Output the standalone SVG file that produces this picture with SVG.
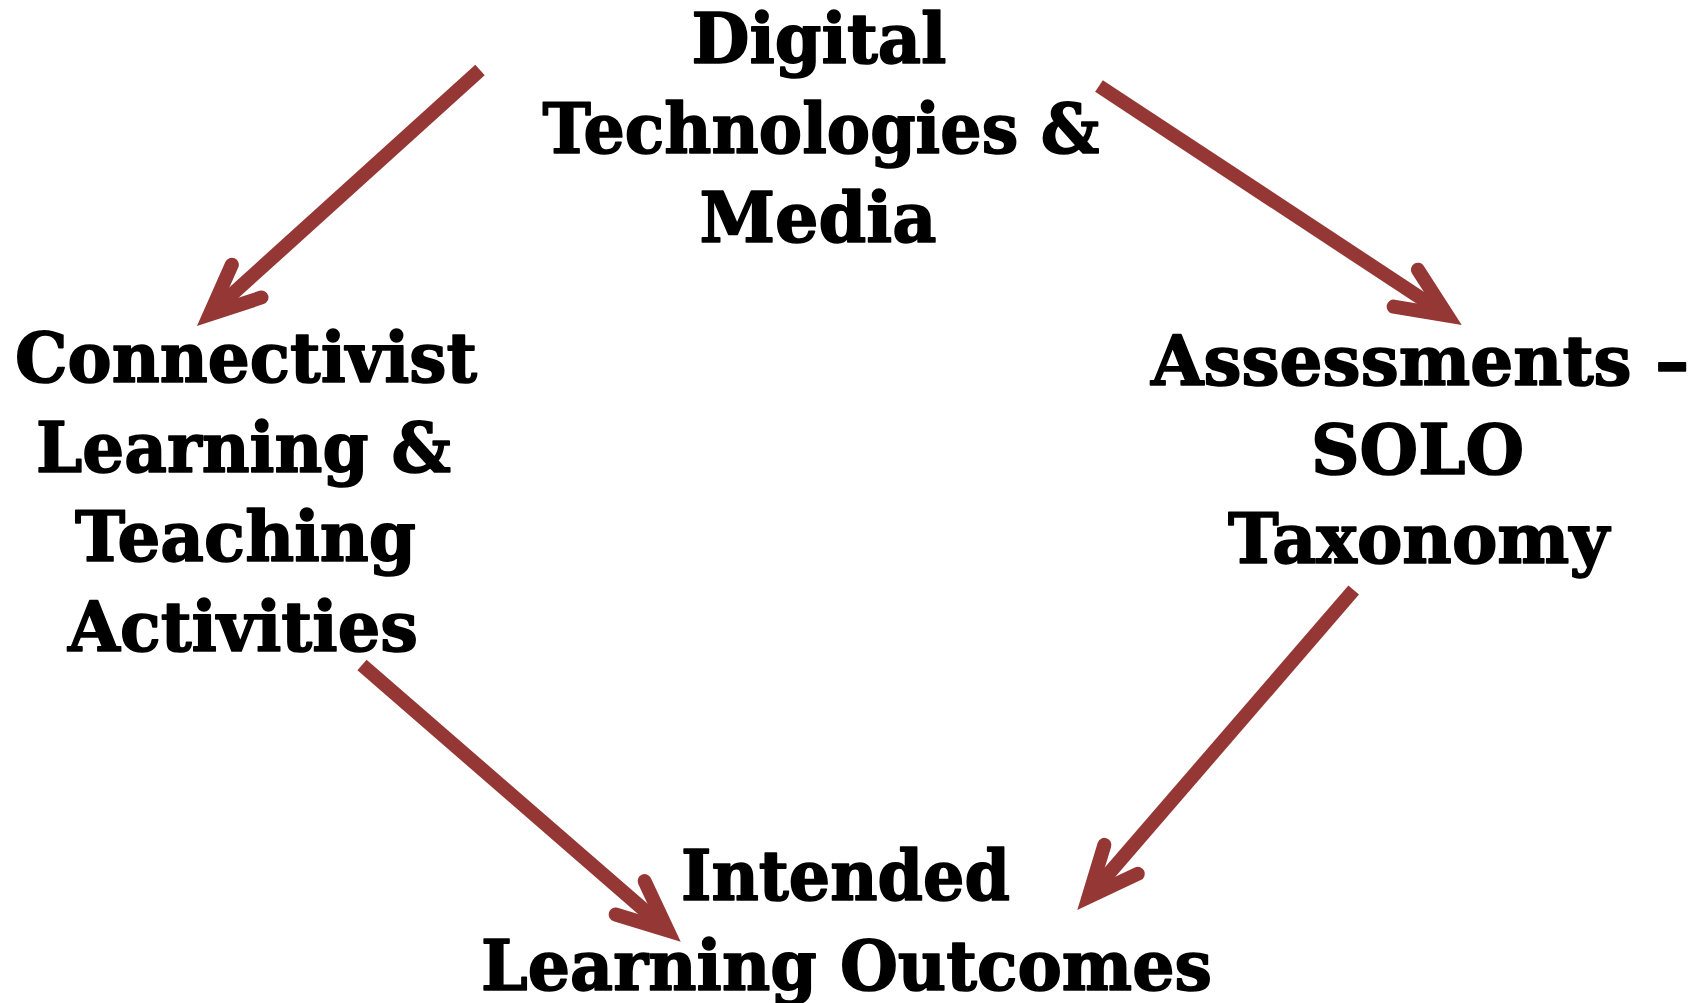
<svg xmlns="http://www.w3.org/2000/svg" width="1705" height="1003" viewBox="0 0 1705 1003">
  <style>
    .lbl { font-family: "DejaVu Serif", "Liberation Serif", serif; font-weight: bold; font-size: 69px; fill: #000; stroke: #000; stroke-width: 1.6; stroke-linejoin: round; text-anchor: middle; }
    .arrow { fill: none; stroke: #953735; stroke-width: 14; stroke-linecap: butt; }
  </style>
  <defs>
    <marker id="head" markerUnits="userSpaceOnUse" orient="auto" refX="0" refY="0" markerWidth="120" markerHeight="120" overflow="visible">
      <path d="M -47,-22.1 L 2.8,0 L -47,22.1" fill="none" stroke="#953735" stroke-width="14" stroke-linejoin="miter" stroke-miterlimit="4" stroke-linecap="round"/>
    </marker>
  </defs>
  <rect width="1705" height="1003" fill="#fff"/>
  <g id="connectors">
    <path class="arrow" d="M 480,70 L 211.8,312.6" marker-end="url(#head)"/>
    <path class="arrow" d="M 1099,86 L 1445,314" marker-end="url(#head)"/>
    <path class="arrow" d="M 362,665 L 665.6,928.6" marker-end="url(#head)"/>
    <path class="arrow" d="M 1353.7,590 L 1090.4,894.9" marker-end="url(#head)"/>
  </g>
  <g id="node-digital">
    <text class="lbl" x="819" y="63" textLength="255" lengthAdjust="spacingAndGlyphs">Digital</text>
    <text class="lbl" x="821" y="152.5" textLength="557" lengthAdjust="spacingAndGlyphs">Technologies &amp;</text>
    <text class="lbl" x="818" y="242" textLength="237" lengthAdjust="spacingAndGlyphs">Media</text>
  </g>
  <g id="node-connectivist">
    <text class="lbl" x="246" y="382" textLength="462" lengthAdjust="spacingAndGlyphs">Connectivist</text>
    <text class="lbl" x="243.5" y="471.5" textLength="415" lengthAdjust="spacingAndGlyphs">Learning &amp;</text>
    <text class="lbl" x="245.5" y="561" textLength="341" lengthAdjust="spacingAndGlyphs">Teaching</text>
    <text class="lbl" x="243" y="650.5" textLength="350" lengthAdjust="spacingAndGlyphs">Activities</text>
  </g>
  <g id="node-assessments">
    <text class="lbl" x="1420" y="385" textLength="538" lengthAdjust="spacingAndGlyphs">Assessments –</text>
    <text class="lbl" x="1417.5" y="474" textLength="213" lengthAdjust="spacingAndGlyphs">SOLO</text>
    <text class="lbl" x="1418.5" y="563" textLength="381" lengthAdjust="spacingAndGlyphs">Taxonomy</text>
  </g>
  <g id="node-outcomes">
    <text class="lbl" x="845.5" y="900" textLength="329" lengthAdjust="spacingAndGlyphs">Intended</text>
    <text class="lbl" x="846.5" y="990" textLength="731" lengthAdjust="spacingAndGlyphs">Learning Outcomes</text>
  </g>
</svg>
